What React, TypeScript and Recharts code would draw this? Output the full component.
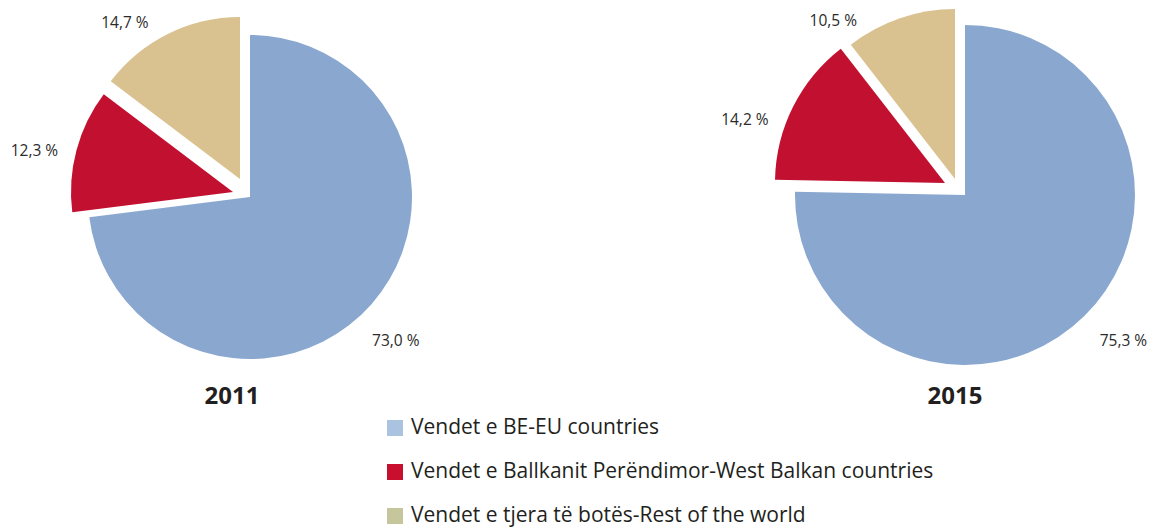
import React from 'react';
import { PieChart, Pie, Cell, Legend } from 'recharts';

const categories = [
  'Vendet e BE-EU countries',
  'Vendet e Ballkanit Perëndimor-West Balkan countries',
  'Vendet e tjera të botës-Rest of the world',
];
const years = ['2011', '2015'];
const values2011 = [73.0, 12.3, 14.7];
const values2015 = [75.3, 14.2, 10.5];

const sliceColors = ['#8aa8cf', '#c21030', '#dac190'];
const legendColors = ['#a9c3e0', '#c8102e', '#c6c69c'];

type Geo = {
  cx: number;
  cy: number;
  r: number;
  offsets: number[][];
  labelNudge: number[];
  labelExtra: number[];
  titleX: number;
};

const geos: Geo[] = [
  {
    cx: 250,
    cy: 197,
    r: 162,
    offsets: [[0, 0], [-17, -5], [-10, -18]],
    labelNudge: [-3, 3, 9.7],
    labelExtra: [42, 41, 33],
    titleX: 232,
  },
  {
    cx: 965,
    cy: 195,
    r: 170,
    offsets: [[0, 0], [-20, -12], [-10, -16]],
    labelNudge: [3, 9, 18.6],
    labelExtra: [45, 40, 30],
    titleX: 955,
  },
];

const RAD = Math.PI / 180;

const buildData = (vals: number[]) => categories.map((name, i) => ({ name, value: vals[i] }));
const datasets = [buildData(values2011), buildData(values2015)];

const fmt = (v: number) => v.toFixed(1).replace('.', ',') + ' %';

export default function App() {
  const pies: React.ReactNode[] = [];
  datasets.forEach((data, c) => {
    const g = geos[c];
    categories.forEach((_, s) => {
      const renderLabel = (props: any) => {
        if (props.index !== s) return null;
        const ang = (props.midAngle + g.labelNudge[s]) * RAD;
        const rr = props.outerRadius + g.labelExtra[s];
        const x = props.cx + rr * Math.cos(ang);
        const y = props.cy - rr * Math.sin(ang);
        return (
          <text
            key={`lbl-${c}-${s}`}
            x={x}
            y={y}
            textAnchor="middle"
            dominantBaseline="central"
            fill="#2b2b2b"
            fontSize={15.5}
            fontFamily="'Open Sans', sans-serif"
          >
            {fmt(props.value)}
          </text>
        );
      };
      pies.push(
        <Pie
          key={`pie-${c}-${s}`}
          data={data}
          dataKey="value"
          nameKey="name"
          cx={g.cx + g.offsets[s][0]}
          cy={g.cy + g.offsets[s][1]}
          outerRadius={g.r}
          innerRadius={0}
          startAngle={90}
          endAngle={-270}
          stroke="none"
          isAnimationActive={false}
          labelLine={false}
          label={renderLabel}
          legendType="none"
        >
          {data.map((d, i) => (
            <Cell key={`cell-${i}`} fill={i === s ? sliceColors[i] : 'transparent'} stroke="none" />
          ))}
        </Pie>
      );
    });
  });

  const renderLegend = () => (
    <div style={{ fontFamily: "'Open Sans', sans-serif" }}>
      {categories.map((name, i) => (
        <div
          key={name}
          style={{ display: 'flex', alignItems: 'center', height: 44, whiteSpace: 'nowrap' }}
        >
          <span
            style={{
              display: 'inline-block',
              width: 16,
              height: 16,
              background: legendColors[i],
              marginRight: 8,
              marginTop: 4,
            }}
          />
          <span style={{ fontSize: 21, color: '#231f20', lineHeight: '28px' }}>{name}</span>
        </div>
      ))}
    </div>
  );

  return (
    <div style={{ position: 'absolute', left: 0, top: 0, width: 1150, height: 527 }}>
      <PieChart width={1150} height={527} margin={{ top: 0, right: 0, bottom: 0, left: 0 }}>
        {pies}
        <Legend
          content={renderLegend}
          wrapperStyle={{ position: 'absolute', left: 387, top: 404, width: 720 }}
        />
      </PieChart>
      {years.map((y, c) => (
        <div
          key={y}
          style={{
            position: 'absolute',
            left: geos[c].titleX - 60,
            width: 120,
            top: 379,
            textAlign: 'center',
            fontFamily: "'Open Sans', sans-serif",
            fontWeight: 700,
            fontSize: 24,
            color: '#231f20',
            lineHeight: '32px',
          }}
        >
          {y}
        </div>
      ))}
    </div>
  );
}
